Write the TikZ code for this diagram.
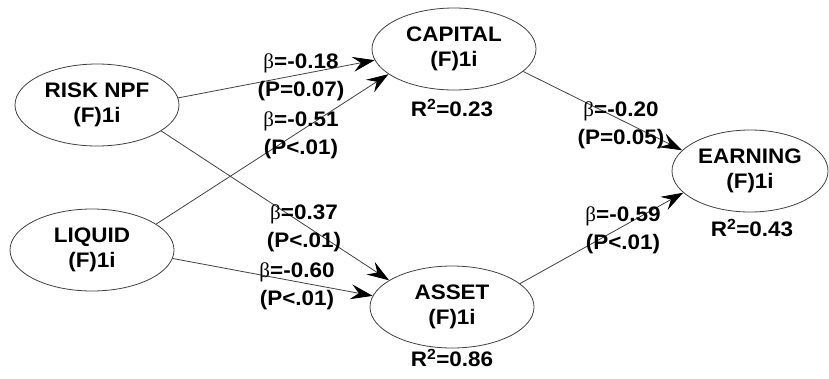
\documentclass[tikz,border=0pt]{standalone}
\usepackage{fontspec}
\setmainfont{Liberation Sans}[FakeStretch=1.07]
\newfontfamily\betafont{Liberation Serif}
\usetikzlibrary{shapes.geometric,arrows.meta}
\begin{document}
\begin{tikzpicture}[x=1pt,y=-1pt,
  lv/.style={ellipse,draw=black!75,line width=0.8pt,minimum width=164pt,minimum height=82pt,inner sep=0pt,align=center,
    font=\fontsize{21}{25}\selectfont\bfseries},
  lbl/.style={inner sep=0pt,align=center,font=\fontsize{21}{28}\selectfont\bfseries},
  rsq/.style={inner sep=0pt,font=\fontsize{21}{25}\selectfont\bfseries},
  path/.style={draw=black!75,line width=0.8pt,-{Stealth[length=22pt,width=15pt,inset=8pt,color=black]}}]
\useasboundingbox (0,0) rectangle (829,378);
\node[lv] (risk) at (97,105) {RISK NPF\\(F)1i};
\node[lv] (liquid) at (92,250) {LIQUID\\(F)1i};
\node[lv] (capital) at (454,49) {CAPITAL\\(F)1i};
\node[lv] (asset) at (452,307) {ASSET\\(F)1i};
\node[lv,minimum width=156pt] (earning) at (750,171) {EARNING\\(F)1i};
\draw[path] (risk.5) -- (capital.188);
\draw[path] (liquid.22) -- (capital.201);
\draw[path] (risk.338) -- (asset.157);
\draw[path] (liquid.354) -- (asset.172);
\draw[path] (capital.342) -- (earning.163);
\draw[path] (asset.19) -- (earning.198);
\node[lbl] (l1) at (301,77) {{\betafont\mdseries β}=-0.18\\(P=0.07)};
\node[lbl] (l2) at (301,135) {{\betafont\mdseries β}=-0.51\\(P<.01)};
\node[lbl] (l3) at (304,228) {{\betafont\mdseries β}=0.37\\(P<.01)};
\node[lbl] (l4) at (297,286) {{\betafont\mdseries β}=-0.60\\(P<.01)};
\node[lbl] (l5) at (621,125) {{\betafont\mdseries β}=-0.20\\(P=0.05)};
\node[lbl] (l6) at (623,230) {{\betafont\mdseries β}=-0.59\\(P<.01)};
\node[rsq] (r1) at (452,108) {R\textsuperscript{2}=0.23};
\node[rsq] (r2) at (752,228) {R\textsuperscript{2}=0.43};
\node[rsq] (r3) at (452,358) {R\textsuperscript{2}=0.86};
\end{tikzpicture}
\end{document}
